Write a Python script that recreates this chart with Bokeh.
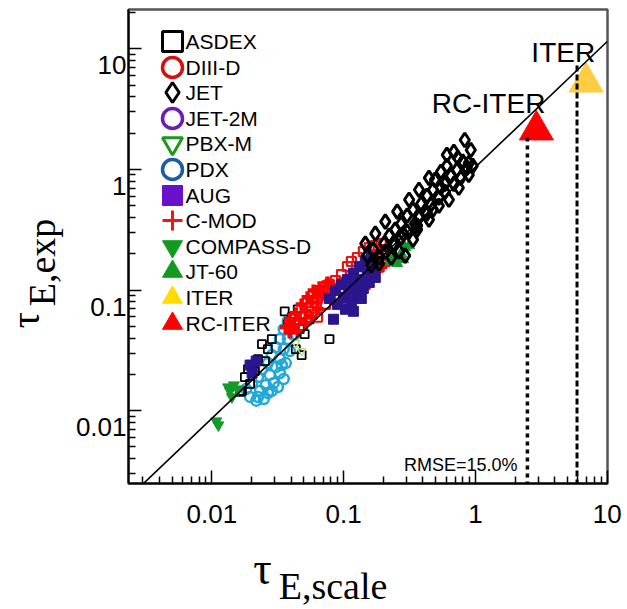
from bokeh.plotting import figure
from bokeh.models import (Range1d, FixedTicker, CustomJSTickFormatter, Label,
                          Legend, LegendItem, LinearAxis, LogAxis, LinearScale, LogScale)
from bokeh.embed import file_html
from bokeh.resources import INLINE

# ---------------- data ----------------
asdex_x = [0.0357, 0.0404, 0.0448, 0.0464, 0.0240, 0.0266, 0.0433, 0.0480, 0.0178, 0.0195,
           0.0169, 0.0212, 0.0224, 0.0285, 0.0253, 0.0188, 0.0506, 0.0377, 0.0552, 0.0781, 0.0164]
asdex_y = [0.0667, 0.0595, 0.0693, 0.0474, 0.0356, 0.0324, 0.0324, 0.0289, 0.0190, 0.0167,
           0.0146, 0.0213, 0.0268, 0.0392, 0.0258, 0.0221, 0.0431, 0.0521, 0.0573, 0.0392, 0.0143]

diiid_x = [0.0634, 0.0704, 0.0781, 0.0867, 0.0963, 0.1068, 0.1145, 0.1271, 0.1410, 0.1565,
           0.1738, 0.1929, 0.0930, 0.1032, 0.1186, 0.1362, 0.1512, 0.1679, 0.1863, 0.2068,
           0.1621, 0.1460, 0.1271, 0.1106, 0.0572, 0.0634, 0.0729, 0.0930, 0.1997, 0.2141]
diiid_y = [0.0852, 0.0993, 0.1113, 0.1200, 0.1345, 0.1563, 0.1726, 0.1862, 0.2087, 0.2253,
           0.2339, 0.2430, 0.1031, 0.1156, 0.1345, 0.1563, 0.1726, 0.1862, 0.1563, 0.1726,
           0.1345, 0.1113, 0.0920, 0.0790, 0.0667, 0.0595, 0.0761, 0.0852, 0.2168, 0.1934]

jet_x = [0.686, 0.735, 0.802, 0.890, 0.493, 0.547, 0.607, 0.651, 0.723, 0.774, 0.860, 0.954,
         0.586, 0.686, 0.387, 0.429, 0.476, 0.528, 0.586, 0.629, 0.460, 0.547, 0.273, 0.303,
         0.336, 0.373, 0.414, 0.444, 0.361, 0.476, 0.203, 0.222, 0.246, 0.273, 0.303, 0.336,
         0.242, 0.361, 0.151, 0.168, 0.186, 0.207, 0.230, 0.264, 0.293, 0.162, 0.186,
         0.607, 0.444, 0.373, 0.314, 0.255, 0.207, 0.174, 0.146, 0.890, 0.748, 0.528, 0.429,
         0.348, 0.283, 0.238, 0.830, 0.922]
jet_y = [1.40, 1.25, 1.16, 1.13, 0.82, 0.955, 1.07, 0.886, 0.992, 0.852, 1.03, 1.07,
         0.76, 0.76, 0.52, 0.605, 0.679, 0.583, 0.653, 0.561, 0.51, 0.705, 0.355, 0.414,
         0.464, 0.399, 0.447, 0.384, 0.342, 0.464, 0.243, 0.283, 0.317, 0.272, 0.305, 0.262,
         0.234, 0.317, 0.193, 0.217, 0.186, 0.209, 0.186, 0.209, 0.193, 0.160, 0.166,
         1.32, 0.852, 0.679, 0.561, 0.447, 0.369, 0.294, 0.243, 0.902, 0.705, 0.500, 0.430,
         0.355, 0.294, 0.243, 1.755, 1.45]

pbxm_x = [0.0515, 0.0480, 0.0433]
pbxm_y = [0.0807, 0.0312, 0.0363]

pdx_x = [0.0377, 0.0404, 0.0351, 0.0328, 0.0377, 0.0306, 0.0351, 0.0390, 0.0285, 0.0328,
         0.0266, 0.0306, 0.0364, 0.0240, 0.0275, 0.0328, 0.0224, 0.0257, 0.0295, 0.0202,
         0.0232, 0.0266, 0.0195, 0.0217, 0.0248, 0.0351, 0.0317, 0.0182, 0.0339, 0.0418,
         0.0285, 0.0224]
pdx_y = [0.0551, 0.0474, 0.0474, 0.0392, 0.0392, 0.0336, 0.0324, 0.0312, 0.0289, 0.0268,
         0.0248, 0.0230, 0.0248, 0.0221, 0.0198, 0.0205, 0.0190, 0.0163, 0.0170, 0.0170,
         0.0146, 0.0140, 0.0130, 0.0121, 0.0125, 0.0183, 0.0157, 0.0151, 0.0239, 0.0423,
         0.0146, 0.0130]

aug_x = [0.0781, 0.0867, 0.0963, 0.1068, 0.1186, 0.1316, 0.1460, 0.1621, 0.0898, 0.0997,
         0.1106, 0.1228, 0.1362, 0.1512, 0.1679, 0.1032, 0.1145, 0.1271, 0.1410, 0.1565,
         0.1738, 0.0838, 0.1186, 0.1362, 0.0195, 0.0217, 0.0202]
aug_y = [0.0852, 0.0993, 0.1113, 0.1226, 0.1374, 0.1563, 0.1726, 0.1862, 0.0761, 0.0870,
         0.0993, 0.1113, 0.1226, 0.1374, 0.1563, 0.0693, 0.0807, 0.0920, 0.1031, 0.1156,
         0.1273, 0.0573, 0.0667, 0.0852, 0.0239, 0.0258, 0.0205]

cmod_x = [0.0364, 0.0390, 0.0419, 0.0433, 0.0464, 0.0480, 0.0515, 0.0533, 0.0572, 0.0592,
          0.0634, 0.0657, 0.0704, 0.0754, 0.0809, 0.0448, 0.0390, 0.0515, 0.0572, 0.0634,
          0.1800, 0.1929, 0.1738]
cmod_y = [0.0492, 0.0573, 0.0511, 0.0642, 0.0573, 0.0761, 0.0667, 0.0870, 0.0790, 0.0993,
          0.0870, 0.1053, 0.0939, 0.1156, 0.1031, 0.0456, 0.0447, 0.0531, 0.0595, 0.0693,
          0.1726, 0.1563, 0.1427]

compass_x = [0.0137, 0.0147, 0.0142, 0.0158, 0.0133, 0.0108, 0.0112]
compass_y = [0.0146, 0.0163, 0.0130, 0.0151, 0.0157, 0.0082, 0.0076]

jt60_x = [0.2216, 0.2460, 0.2730, 0.2926, 0.3137, 0.2547, 0.2827, 0.2295]
jt60_y = [0.1726, 0.1862, 0.2009, 0.2253, 0.2339, 0.1661, 0.1792, 0.1934]

iter_x = [6.92]
iter_y = [5.29]
rciter_x = [2.90]
rciter_y = [2.12]

fit_x = [0.0023, 10.0]
fit_y = [0.00187, 11.5]

rc_drop_x = [2.48, 2.48]
rc_drop_y = [0.0024, 1.93]
iter_drop_x = [5.9, 5.9]
iter_drop_y = [0.0024, 7.6]

x_tick_vals = [0.001, 0.01, 0.1, 1, 10]
y_tick_vals = [10, 1, 0.1, 0.01]
rmse_text = "RMSE=15.0%"

legend_labels = ["ASDEX", "DIII-D", "JET", "JET-2M", "PBX-M", "PDX", "AUG", "C-MOD",
                 "COMPASS-D", "JT-60", "ITER", "RC-ITER"]

SANS = "Liberation Sans"
SERIF = "Liberation Serif"

# ---------------- layout constants ----------------
X0, X1 = 0.00233, 10.05
Y0, Y1 = 0.00249, 21.2
FRAME_W, FRAME_H = 479, 476
YLAB_SHIFT = 1.371          # y tick labels sit just below their tick

p = figure(width=627, height=609, x_axis_type="log", y_axis_type="log",
           x_range=Range1d(X0, X1), y_range=Range1d(Y0, Y1),
           extra_x_ranges={"px": Range1d(0, FRAME_W)},
           extra_y_ranges={"px": Range1d(0, FRAME_H),
                           "ylab": Range1d(Y0 * YLAB_SHIFT, Y1 * YLAB_SHIFT)},
           extra_x_scales={"px": LinearScale()},
           extra_y_scales={"px": LinearScale(), "ylab": LogScale()},
           output_backend="svg", toolbar_location=None,
           min_border_left=128, min_border_right=20, min_border_top=9, min_border_bottom=124)
p.grid.visible = False
p.outline_line_color = "#555555"
p.outline_line_width = 2.5
p.background_fill_color = "white"
p.border_fill_color = "white"

minor = [m * 10.0 ** e for e in range(-3, 2) for m in range(2, 10)]
for ax in (p.xaxis[0], p.yaxis[0]):
    ax.ticker = FixedTicker(ticks=x_tick_vals, minor_ticks=minor)
    ax.axis_line_width = 2
    ax.axis_line_color = "black"
    ax.major_tick_in = 13
    ax.major_tick_out = 0
    ax.minor_tick_in = 7
    ax.minor_tick_out = 0
    ax.major_tick_line_width = 1.5
    ax.minor_tick_line_width = 1.5
    ax.major_tick_line_color = "black"
    ax.minor_tick_line_color = "black"

p.xaxis.formatter = CustomJSTickFormatter(code="return tick.toString();")
p.xaxis.major_label_text_font = SANS
p.xaxis.major_label_text_font_size = "26px"
p.xaxis.major_label_text_color = "black"
p.xaxis.major_label_standoff = 21
p.yaxis.formatter = CustomJSTickFormatter(code="return '';")
p.yaxis.major_label_standoff = 0


def bare(ax, font, size, standoff):
    ax.axis_line_color = None
    ax.major_tick_line_color = None
    ax.minor_tick_line_color = None
    ax.major_tick_in = 0
    ax.major_tick_out = 0
    ax.minor_tick_in = 0
    ax.minor_tick_out = 0
    ax.major_label_text_color = "black"
    ax.major_label_text_font = font
    ax.major_label_text_font_size = size
    ax.major_label_standoff = standoff
    return ax


# ---- left side, stacked outward from the frame ----
ylab = bare(LogAxis(y_range_name="ylab", ticker=FixedTicker(ticks=y_tick_vals),
                    formatter=CustomJSTickFormatter(code="return tick.toString();")),
            SANS, "26px", 2)
p.add_layout(ylab, "left")

ytau = bare(LinearAxis(y_range_name="px", ticker=FixedTicker(ticks=[164]),
                       formatter=CustomJSTickFormatter(code="return '\u03c4';")),
            SERIF, "40px", 24)
ytau.major_label_orientation = "parallel"
p.add_layout(ytau, "left")

ysub = bare(LinearAxis(y_range_name="px", ticker=FixedTicker(ticks=[222]),
                       formatter=CustomJSTickFormatter(code="return 'E,exp';")),
            SERIF, "38px", -63)
ysub.major_label_orientation = "parallel"
p.add_layout(ysub, "left")

# ---- bottom side, stacked outward from the frame ----
xsub = bare(LinearAxis(x_range_name="px", ticker=FixedTicker(ticks=[204.5]),
                       formatter=CustomJSTickFormatter(code="return 'E,scale';")),
            SERIF, "38px", 39)
p.add_layout(xsub, "below")

xtau = bare(LinearAxis(x_range_name="px", ticker=FixedTicker(ticks=[134]),
                       formatter=CustomJSTickFormatter(code="return '\u03c4';")),
            SERIF, "46px", -67)
p.add_layout(xtau, "below")

# ---------------- data glyphs ----------------
p.scatter(pdx_x, pdx_y, marker="circle", size=10, fill_color=None, line_color="#22a8d8", line_width=2.5)
p.scatter(asdex_x, asdex_y, marker="square", size=8, fill_color=None, line_color="black", line_width=1.8)
p.scatter(compass_x, compass_y, marker="inverted_triangle", size=11, fill_color="#139a2a",
          line_color="#139a2a")
p.scatter(pbxm_x, pbxm_y, marker="inverted_triangle", size=8, fill_color=None,
          line_color="#b8e08a", line_width=1.5)
p.scatter(diiid_x, diiid_y, marker="square", size=9, fill_color=None, line_color="#ee1111", line_width=2.2)
p.scatter(cmod_x, cmod_y, marker="cross", size=12, line_color="#ff0000", line_width=4.5)
p.scatter(aug_x, aug_y, marker="square", size=10, fill_color="#2c168f", line_color="#2c168f")
p.scatter(jt60_x, jt60_y, marker="triangle", size=11, fill_color="#139a2a", line_color="#139a2a")
p.scatter(jet_x, jet_y, marker="diamond", size=14, fill_color=None, line_color="black", line_width=3)

p.scatter(iter_x, iter_y, marker="triangle", size=34, fill_color="#ffcc44", line_color="#ffcc44")
p.scatter(rciter_x, rciter_y, marker="triangle", size=34, fill_color="#ff0000", line_color="#ff0000")

p.line(fit_x, fit_y, line_color="black", line_width=1.6)
p.line(rc_drop_x, rc_drop_y, line_color="black", line_width=3.5, line_dash="4 4")
p.line(iter_drop_x, iter_drop_y, line_color="black", line_width=3, line_dash="6 3")

# ---------------- legend: glyphs from hidden styled copies, texts as labels ----------------
def hidden(xs, ys, **kw):
    return p.scatter(x=xs[:1], y=ys[:1], visible=False, **kw)

legend_renderers = [
    hidden(asdex_x, asdex_y, marker="square", fill_color=None, line_color="black", line_width=3),
    hidden(diiid_x, diiid_y, marker="circle", fill_color=None, line_color="#d81010", line_width=3.5),
    hidden(jet_x, jet_y, marker="diamond", fill_color=None, line_color="black", line_width=3),
    hidden(jet_x, jet_y, marker="circle", fill_color=None, line_color="#6a1eb4", line_width=3.5),
    hidden(pbxm_x, pbxm_y, marker="inverted_triangle", fill_color=None, line_color="#1a9a1a", line_width=3),
    hidden(pdx_x, pdx_y, marker="circle", fill_color=None, line_color="#1a5ca8", line_width=3.5),
    hidden(aug_x, aug_y, marker="square", fill_color="#6a10cc", line_color="#6a10cc"),
    hidden(cmod_x, cmod_y, marker="cross", line_color="#ff1010", line_width=3),
    hidden(compass_x, compass_y, marker="inverted_triangle", fill_color="#119a1e", line_color="#119a1e"),
    hidden(jt60_x, jt60_y, marker="triangle", fill_color="#119a1e", line_color="#119a1e"),
    hidden(iter_x, iter_y, marker="triangle", fill_color="#ffdd00", line_color="#ffdd00"),
    hidden(rciter_x, rciter_y, marker="triangle", fill_color="#ff0000", line_color="#ff0000"),
]
ROW0, PITCH = 43.0, 25.6
for i, (lab, r) in enumerate(zip(legend_labels, legend_renderers)):
    row_center = ROW0 + PITCH * i
    lg = Legend(items=[LegendItem(label=" ", renderers=[r])],
                location=(19, int(round(FRAME_H + 9 - row_center - 25))),
                glyph_width=50, glyph_height=50, label_standoff=0, padding=0, margin=0,
                border_line_color=None, background_fill_alpha=0,
                label_text_font_size="1px", label_width=1)
    p.add_layout(lg)
    p.add_layout(Label(x=57, y=FRAME_H + 9 - row_center, x_units="screen", y_units="screen",
                       text=lab, text_align="left", text_baseline="middle",
                       text_font=SANS, text_font_size="21px", text_color="black"))

# ---------------- in-plot texts ----------------
p.add_layout(Label(x=iter_x[0], y=iter_y[0], x_offset=9, y_offset=30, text="ITER",
                   text_align="right", text_baseline="alphabetic",
                   text_font=SANS, text_font_size="28px", text_color="black"))
p.add_layout(Label(x=rciter_x[0], y=rciter_y[0], x_offset=9, y_offset=27, text="RC-ITER",
                   text_align="right", text_baseline="alphabetic",
                   text_font=SANS, text_font_size="28px", text_color="black"))
p.add_layout(Label(x=389, y=19, x_units="screen", y_units="screen", text=rmse_text,
                   text_align="right", text_baseline="alphabetic",
                   text_font=SANS, text_font_size="18px", text_color="black"))

open("out.html", "w").write(file_html(p, INLINE))
